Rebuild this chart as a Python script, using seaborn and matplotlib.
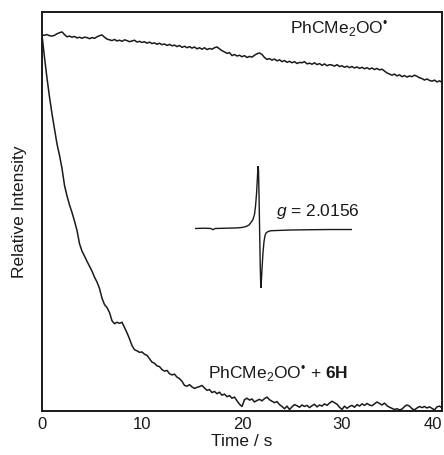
import numpy as np
import pandas as pd
import matplotlib
matplotlib.use("Agg")
import matplotlib.pyplot as plt
import seaborn as sns

# time axis for both decay traces (s)
time_s = np.arange(0, 40.01, 0.25)

# PhCMe2OO* alone
peroxyl = [
    1.000, 0.999, 1.001, 0.998, 0.997, 0.999, 1.003, 1.006,
    1.008, 1.001, 0.995, 0.997, 0.994, 0.996, 0.992, 0.994,
    0.991, 0.994, 0.993, 0.990, 0.993, 0.991, 0.995, 0.998,
    1.000, 0.994, 0.989, 0.987, 0.985, 0.988, 0.984, 0.986,
    0.983, 0.987, 0.985, 0.982, 0.984, 0.986, 0.981, 0.983,
    0.980, 0.982, 0.978, 0.981, 0.977, 0.979, 0.975, 0.978,
    0.974, 0.976, 0.972, 0.975, 0.971, 0.973, 0.969, 0.972,
    0.967, 0.970, 0.966, 0.969, 0.965, 0.968, 0.963, 0.966,
    0.962, 0.966, 0.961, 0.964, 0.962, 0.966, 0.968, 0.963,
    0.958, 0.955, 0.951, 0.953, 0.945, 0.948, 0.944, 0.946,
    0.942, 0.945, 0.940, 0.943, 0.941, 0.946, 0.950, 0.952,
    0.948, 0.940, 0.935, 0.937, 0.933, 0.936, 0.931, 0.934,
    0.929, 0.932, 0.927, 0.930, 0.926, 0.929, 0.924, 0.927,
    0.926, 0.929, 0.923, 0.925, 0.922, 0.926, 0.921, 0.924,
    0.919, 0.923, 0.918, 0.921, 0.920, 0.917, 0.921, 0.916,
    0.918, 0.914, 0.917, 0.913, 0.916, 0.912, 0.915, 0.911,
    0.914, 0.910, 0.913, 0.909, 0.912, 0.908, 0.911, 0.907,
    0.909, 0.904, 0.899, 0.896, 0.893, 0.896, 0.891, 0.894,
    0.889, 0.892, 0.888, 0.891, 0.889, 0.893, 0.890, 0.886,
    0.884, 0.880, 0.883, 0.879, 0.877, 0.880, 0.875, 0.878,
    0.874,
]

# PhCMe2OO* + 6H
with_6h = [
    1.000, 0.940, 0.885, 0.835, 0.790, 0.750, 0.710, 0.680,
    0.645, 0.600, 0.572, 0.548, 0.528, 0.505, 0.480, 0.445,
    0.425, 0.412, 0.398, 0.385, 0.372, 0.356, 0.343, 0.326,
    0.300, 0.283, 0.275, 0.262, 0.240, 0.232, 0.236, 0.233,
    0.236, 0.222, 0.208, 0.192, 0.174, 0.163, 0.160, 0.156,
    0.157, 0.151, 0.148, 0.139, 0.130, 0.127, 0.120, 0.118,
    0.110, 0.106, 0.108, 0.099, 0.096, 0.098, 0.090, 0.086,
    0.079, 0.068, 0.066, 0.070, 0.064, 0.060, 0.063, 0.065,
    0.068, 0.061, 0.055, 0.057, 0.049, 0.052, 0.046, 0.050,
    0.042, 0.045, 0.038, 0.041, 0.034, 0.037, 0.027, 0.018,
    0.012, 0.030, 0.034, 0.029, 0.032, 0.024, 0.028, 0.031,
    0.027, 0.033, 0.037, 0.030, 0.026, 0.022, 0.025, 0.017,
    0.012, 0.006, 0.013, 0.004, 0.011, 0.017, 0.014, 0.010,
    0.016, 0.012, 0.015, 0.009, 0.014, 0.018, 0.011, 0.016,
    0.013, 0.019, 0.015, 0.021, 0.026, 0.022, 0.018, 0.010,
    0.004, 0.013, 0.007, 0.012, 0.015, 0.010, 0.017, 0.013,
    0.019, 0.015, 0.020, 0.016, 0.014, 0.019, 0.024, 0.020,
    0.016, 0.021, 0.014, 0.010, 0.007, 0.004, 0.006, 0.003,
    0.005, 0.012, 0.016, 0.013, 0.006, 0.003, 0.008, 0.012,
    0.009, 0.012, 0.008, 0.011, 0.007, 0.003, 0.011, 0.013,
    0.008,
]

# inset EPR spectrum (field in arb. units, derivative signal)
epr_field = [195, 205, 211, 213, 215, 225, 235, 242, 246, 249, 251, 253,
             254.5, 255.5, 256.5, 257.3, 258, 258.5, 259, 259.6, 260.2,
             260.8, 261.4, 262, 263, 264, 265, 266, 268, 271, 276, 290,
             310, 330, 345, 352]
epr_signal = [0, 0.3, 0, -1.2, 0, 0.3, 0.5, 1, 2, 3.5, 6, 9,
              14, 22, 34, 48, 62, 58, 35, 0, -35,
              -59, -52, -40, -24, -13, -7, -4.5, -3, -2.2, -2, -1.5,
              -1.2, -1, -1, -1]

sns.set_theme(style="white")
plt.rcParams["font.family"] = ["Liberation Sans", "DejaVu Sans"]
plt.rcParams["mathtext.fontset"] = "custom"
plt.rcParams["mathtext.rm"] = "Liberation Sans"
plt.rcParams["mathtext.it"] = "Liberation Sans:italic"
plt.rcParams["mathtext.bf"] = "Liberation Sans:bold"

ink = "#1a1a1a"

df = pd.DataFrame({"time": time_s, "peroxyl": peroxyl, "with_6h": with_6h})

fig = plt.figure(figsize=(4.44, 4.55), dpi=100)
ax = fig.add_axes([42 / 444, 1 - 411 / 455, 400 / 444, 399 / 455])

sns.lineplot(data=df, x="time", y="peroxyl", ax=ax, color=ink, lw=1.1)
sns.lineplot(data=df, x="time", y="with_6h", ax=ax, color=ink, lw=1.1)

ax.set_xlim(0, 40)
ax.set_ylim(0, 1.061)
ax.set_xticks([0, 10, 20, 30, 40])
ax.set_yticks([])
ax.tick_params(axis="x", direction="in", length=5.5, width=1, color=ink,
               labelsize=12, pad=4, labelcolor=ink)
# last label sits flush with the right edge, as in the original
ax.get_xticklabels()[-1].set_ha("right")
ax.get_xticklabels()[-1].set_x(40)
for sp in ax.spines.values():
    sp.set_linewidth(1.4)
    sp.set_color(ink)

ax.set_xlabel("Time / s", fontsize=12.5, color=ink, labelpad=2)
ax.set_ylabel("Relative Intensity", fontsize=12.5, color=ink, labelpad=11)

ax.text(0.62, 0.945, r"PhCMe$_2$OO$^{•}$", transform=ax.transAxes,
        fontsize=12.5, color=ink, va="baseline")
ax.text(0.415, 0.080, r"PhCMe$_2$OO$^{•}$ + $\mathbf{6H}$",
        transform=ax.transAxes, fontsize=12.5, color=ink, va="baseline")
ax.text(0.585, 0.489, r"$g$ = 2.0156", transform=ax.transAxes,
        fontsize=12.5, color=ink, va="baseline")

# inset spectrum
ins = fig.add_axes([195 / 444, 1 - 288 / 455, 157 / 444, 122 / 455])
sns.lineplot(x=epr_field, y=epr_signal, ax=ins, color=ink, lw=1.0,
             sort=False)
ins.set_xlim(min(epr_field), max(epr_field))
ins.set_ylim(min(epr_signal), max(epr_signal))
ins.axis("off")

fig.savefig("out.png", dpi=100)
